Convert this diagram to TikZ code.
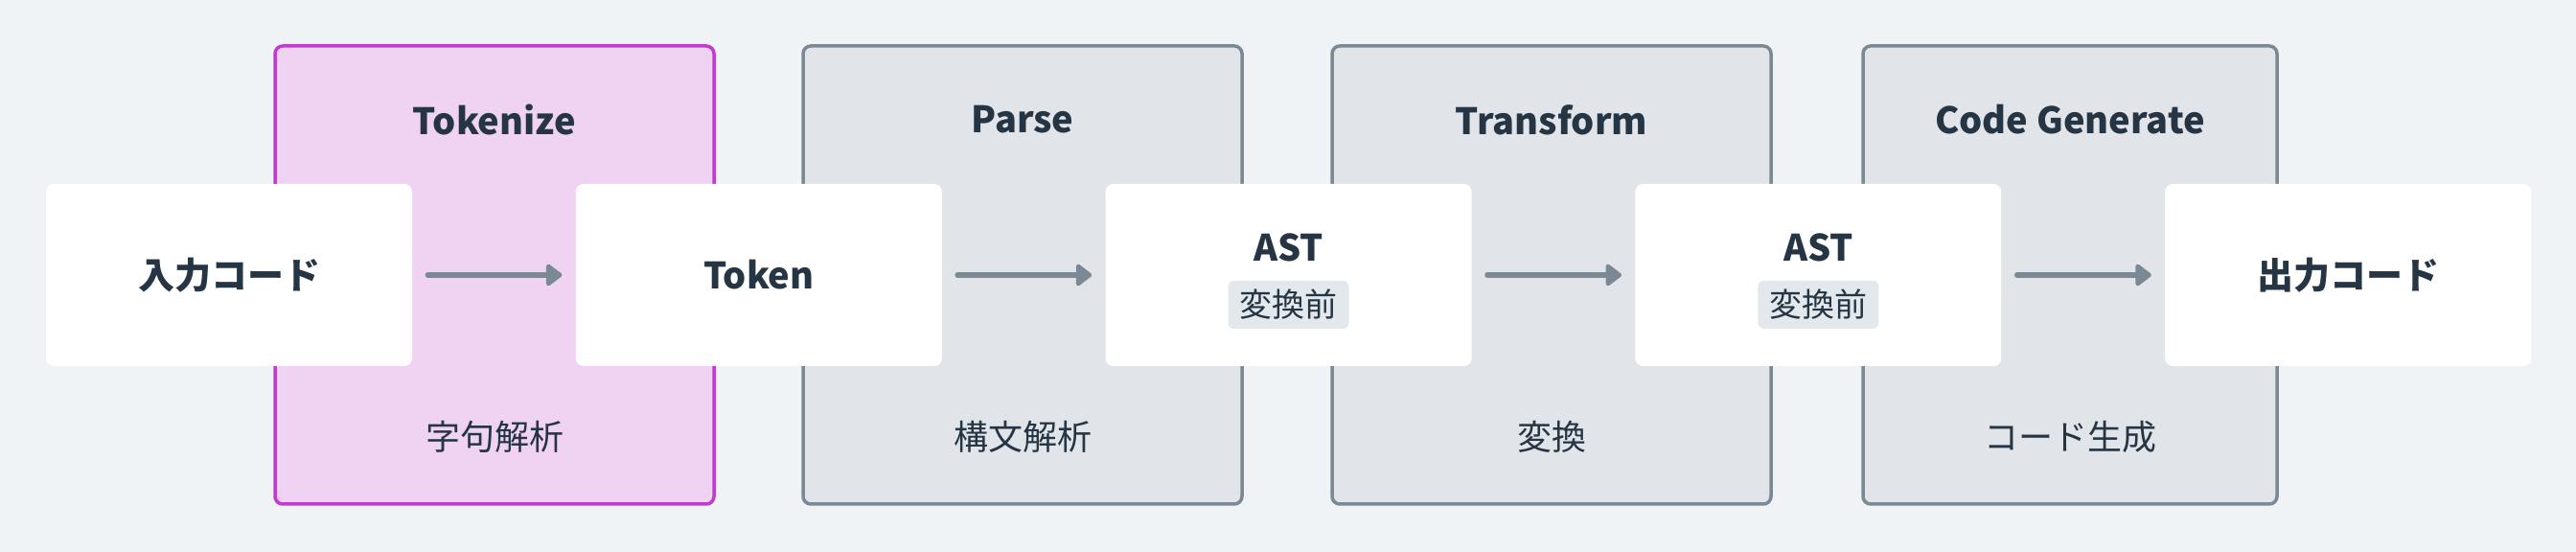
\documentclass[tikz,border=0pt]{standalone}
\usepackage{fontspec}
\setmainfont{Noto Sans CJK JP}
\usetikzlibrary{positioning,arrows.meta}

\definecolor{bgcol}{HTML}{EFF3F6}
\definecolor{txtcol}{HTML}{263544}
\definecolor{grayline}{HTML}{7B8995}
\definecolor{grayfill}{HTML}{E1E5E9}
\definecolor{pinkline}{HTML}{C03CCF}
\definecolor{pinkfill}{HTML}{F0D3F3}
\definecolor{pillfill}{HTML}{E3E8ED}

\tikzset{
    stage/.style={draw=grayline, fill=grayfill, line width=1.75pt, rounded corners=4pt,
        minimum width=229pt, minimum height=239pt, inner sep=0pt},
    stagehot/.style={stage, draw=pinkline, fill=pinkfill},
    title/.style={text=txtcol, font=\bfseries\fontsize{19}{22}\selectfont},
    note/.style={text=txtcol, font=\fontsize{18}{22}\selectfont},
    box/.style={fill=white, rounded corners=4pt, minimum width=191pt, minimum height=95pt,
        inner sep=0pt, text=txtcol, font=\bfseries\fontsize{19}{22}\selectfont},
    pill/.style={fill=pillfill, rounded corners=3pt, minimum width=63pt, minimum height=25pt,
        inner sep=0pt, text=txtcol, font=\fontsize{17}{20}\selectfont},
    flow/.style={draw=grayline, line width=2.8pt, line cap=round, shorten <=8pt, shorten >=7pt,
        -{Triangle[length=9pt,width=13pt,round]}}
}

\begin{document}
\begin{tikzpicture}[x=1pt, y=1pt]
    % фон
    \fill [bgcol] (0, 0) rectangle (1344, 288);

    % этапы
    \node [stagehot] (tokenize) at (258, 144.5) {};
    \node [stage] (parse) at (533.5, 144.5) {};
    \node [stage] (transform) at (809.5, 144.5) {};
    \node [stage, minimum width=216pt] (generate) at (1080, 144.5) {};

    \node [title] (tokenizeT) at (258, 225.5) {Tokenize};
    \node [title] (parseT) at (533.5, 225.5) {Parse};
    \node [title] (transformT) at (809.5, 225.5) {Transform};
    \node [title] (generateT) at (1080, 225.5) {Code Generate};

    \node [note] (tokenizeN) at (258, 60) {字句解析};
    \node [note] (parseN) at (533.5, 60) {構文解析};
    \node [note] (transformN) at (809.5, 60) {変換};
    \node [note] (generateN) at (1080, 60) {コード生成};

    % данные
    \node [box] (input) at (119.5, 144.5) {入力コード};
    \node [box, right=85pt of input] (token) {Token};
    \node [box, right=85pt of token] (astA) {};
    \node [box, right=85pt of astA] (astB) {};
    \node [box, right=85pt of astB] (output) {出力コード};

    \node [title] (astAT) at ([yshift=14.5pt] astA.center) {AST};
    \node [pill] (astAP) at ([yshift=-15.5pt] astA.center) {変換前};
    \node [title] (astBT) at ([yshift=14.5pt] astB.center) {AST};
    \node [pill] (astBP) at ([yshift=-15.5pt] astB.center) {変換前};

    % стрелки
    \draw [flow] (input) -- (token);
    \draw [flow] (token) -- (astA);
    \draw [flow] (astA) -- (astB);
    \draw [flow] (astB) -- (output);
\end{tikzpicture}
\end{document}
